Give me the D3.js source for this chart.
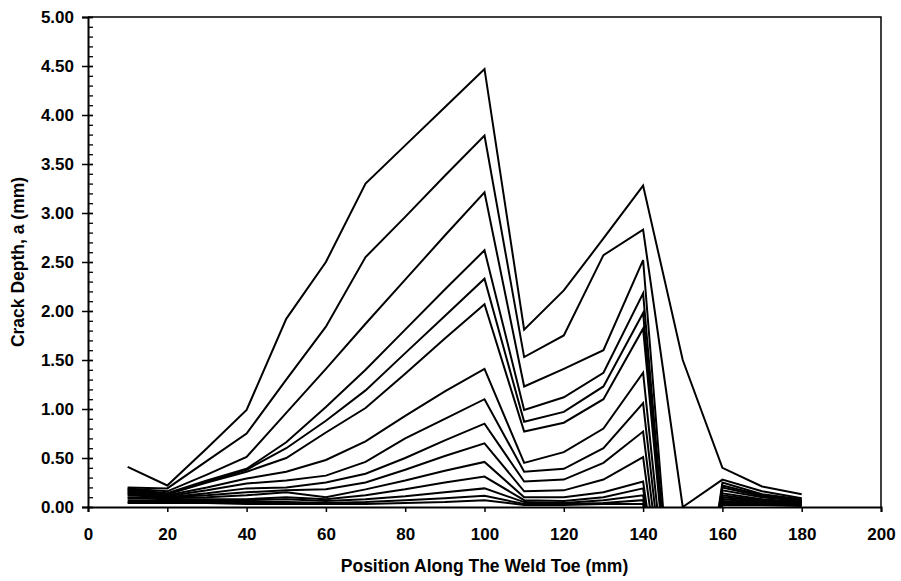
<!DOCTYPE html>
<html>
<head>
<meta charset="utf-8">
<script src="https://cdn.jsdelivr.net/npm/d3@7"></script>
<style>
  html, body { margin: 0; padding: 0; background: #fff; }
  svg { display: block; }
  text { font-family: "Liberation Sans", Arial, sans-serif; font-weight: bold; fill: #000; }
</style>
</head>
<body>
<svg id="chart" width="901" height="581"></svg>
<script>
// Measurement positions along the weld toe (mm)
const positions = [10, 20, 30, 40, 50, 60, 70, 80, 90, 100, 110, 120, 130, 140, 150, 160, 170, 180];

// Crack depth profiles (mm), one per inspection, latest first.
// Values below zero at 150 mm run under the axis and are clipped by the plot area.
const profile15 = [0.41, 0.22, 0.60, 0.99, 1.92, 2.50, 3.30, 3.69, 4.08, 4.47, 1.81, 2.21, 2.74, 3.28, 1.50, 0.40, 0.21, 0.13];
const profile14 = [0.20, 0.19, 0.47, 0.75, 1.30, 1.84, 2.55, 2.96, 3.38, 3.79, 1.53, 1.75, 2.57, 2.83, 0.00, 0.28, 0.16, 0.09];
const profile13 = [0.19, 0.16, 0.33, 0.51, 0.96, 1.41, 1.87, 2.32, 2.77, 3.21, 1.23, 1.41, 1.60, 2.52, -2.5, 0.25, 0.13, 0.08];
const profile12 = [0.18, 0.14, 0.27, 0.39, 0.66, 1.02, 1.40, 1.81, 2.22, 2.62, 0.99, 1.12, 1.37, 2.18, -2.5, 0.22, 0.12, 0.07];
const profile11 = [0.17, 0.13, 0.26, 0.38, 0.60, 0.88, 1.19, 1.57, 1.95, 2.33, 0.87, 0.97, 1.23, 1.98, -2.5, 0.20, 0.11, 0.06];
const profile10 = [0.16, 0.13, 0.25, 0.36, 0.50, 0.76, 1.01, 1.36, 1.72, 2.07, 0.77, 0.86, 1.10, 1.82, -2.5, 0.17, 0.10, 0.06];
const profile9  = [0.15, 0.12, 0.20, 0.29, 0.36, 0.48, 0.67, 0.93, 1.18, 1.41, 0.45, 0.56, 0.80, 1.37, -2.5, 0.14, 0.08, 0.05];
const profile8  = [0.14, 0.11, 0.17, 0.24, 0.27, 0.32, 0.46, 0.70, 0.90, 1.10, 0.36, 0.39, 0.60, 1.06, -2.5, 0.12, 0.07, 0.05];
const profile7  = [0.13, 0.10, 0.14, 0.19, 0.20, 0.25, 0.34, 0.50, 0.68, 0.85, 0.26, 0.28, 0.45, 0.77, -2.5, 0.10, 0.06, 0.04];
const profile6  = [0.12, 0.10, 0.12, 0.15, 0.17, 0.18, 0.25, 0.38, 0.52, 0.65, 0.16, 0.17, 0.28, 0.51, -2.5, 0.08, 0.05, 0.04];
const profile5  = [0.10, 0.09, 0.10, 0.12, 0.15, 0.10, 0.18, 0.27, 0.37, 0.46, 0.10, 0.10, 0.15, 0.26, -2.5, 0.06, 0.04, 0.03];
const profile4  = [0.09, 0.08, 0.08, 0.08, 0.10, 0.08, 0.12, 0.18, 0.25, 0.31, 0.07, 0.06, 0.10, 0.19, -2.5, 0.05, 0.03, 0.03];
const profile3  = [0.07, 0.06, 0.06, 0.07, 0.08, 0.06, 0.08, 0.11, 0.15, 0.19, 0.05, 0.04, 0.07, 0.12, -2.5, 0.04, 0.03, 0.02];
const profile2  = [0.05, 0.05, 0.05, 0.05, 0.05, 0.04, 0.05, 0.07, 0.09, 0.115, 0.03, 0.03, 0.04, 0.07, -2.5, 0.03, 0.02, 0.02];
const profile1  = [0.04, 0.04, 0.04, 0.03, 0.03, 0.03, 0.03, 0.04, 0.05, 0.07, 0.02, 0.02, 0.03, 0.03, -2.5, 0.02, 0.02, 0.01];

const profiles = [profile1, profile2, profile3, profile4, profile5, profile6, profile7, profile8,
                  profile9, profile10, profile11, profile12, profile13, profile14, profile15];

// Axis ticks
const xTicks = [0, 20, 40, 60, 80, 100, 120, 140, 160, 180, 200];
const yTicks = [0, 0.5, 1.0, 1.5, 2.0, 2.5, 3.0, 3.5, 4.0, 4.5, 5.0];
const yMinorTicks = d3.range(0, 5.0001, 0.1);

const xTitle = "Position Along The Weld Toe (mm)";
const yTitle = "Crack Depth, a (mm)";

const plot = { left: 88, right: 881, top: 17, bottom: 507 };
const labelSize = 17;
const titleSize = 17.5;

const svg = d3.select("#chart");

const x = d3.scaleLinear().domain([0, 200]).range([plot.left, plot.right]);
const y = d3.scaleLinear().domain([0, 5]).range([plot.bottom, plot.top]);

svg.append("defs").append("clipPath").attr("id", "plot-clip")
  .append("rect")
  .attr("x", plot.left).attr("y", plot.top)
  .attr("width", plot.right - plot.left).attr("height", plot.bottom - plot.top);

// Profile lines
const line = d3.line()
  .x((d, i) => x(positions[i]))
  .y(d => y(d));

svg.append("g").attr("clip-path", "url(#plot-clip)")
  .selectAll("path")
  .data(profiles)
  .join("path")
  .attr("d", line)
  .attr("fill", "none")
  .attr("stroke", "#000")
  .attr("stroke-width", 2)
  .attr("stroke-linejoin", "miter");

// Plot frame (top and right)
svg.append("path")
  .attr("d", `M${plot.left},${plot.top}H${plot.right}V${plot.bottom}`)
  .attr("fill", "none").attr("stroke", "#000").attr("stroke-width", 1.5);

// Y axis: minor ticks inside, major ticks crossing
const yAxisMinor = d3.axisRight(y).tickValues(yMinorTicks).tickSize(5).tickFormat("");
svg.append("g").attr("transform", `translate(${plot.left},0)`).call(yAxisMinor)
  .call(g => g.select(".domain").remove())
  .call(g => g.selectAll("line").attr("stroke", "#000").attr("stroke-width", 1.3));

const yAxis = d3.axisLeft(y).tickValues(yTicks).tickSize(6).tickPadding(8).tickFormat(d3.format(".2f"));
svg.append("g").attr("transform", `translate(${plot.left},0)`).call(yAxis)
  .call(g => g.select(".domain").attr("stroke", "#000").attr("stroke-width", 2))
  .call(g => g.selectAll(".tick line").attr("x2", 5).attr("x1", -6).attr("stroke", "#000").attr("stroke-width", 1.5))
  .call(g => g.selectAll("text").attr("font-size", labelSize).attr("font-family", "'Liberation Sans', Arial, sans-serif").attr("font-weight", "bold"));

// X axis
const xAxis = d3.axisBottom(x).tickValues(xTicks).tickSize(5).tickPadding(16).tickFormat(d3.format("d"));
svg.append("g").attr("transform", `translate(0,${plot.bottom})`).call(xAxis)
  .call(g => g.select(".domain").attr("stroke", "#000").attr("stroke-width", 2))
  .call(g => g.selectAll(".tick line").attr("stroke", "#000").attr("stroke-width", 1.5))
  .call(g => g.selectAll("text").attr("font-size", labelSize).attr("font-family", "'Liberation Sans', Arial, sans-serif").attr("font-weight", "bold"));

// Axis titles
svg.append("text")
  .attr("x", (plot.left + plot.right) / 2)
  .attr("y", 572)
  .attr("text-anchor", "middle")
  .attr("font-size", titleSize)
  .text(xTitle);

svg.append("text")
  .attr("transform", `translate(24,${(plot.top + plot.bottom) / 2}) rotate(-90)`)
  .attr("text-anchor", "middle")
  .attr("font-size", titleSize)
  .text(yTitle);
</script>
</body>
</html>
